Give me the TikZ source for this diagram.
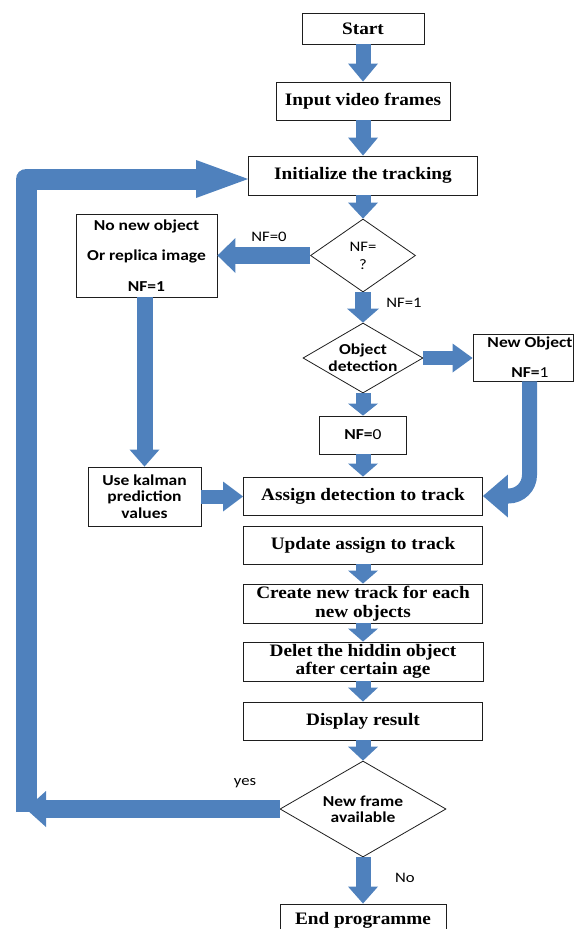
\documentclass[tikz,border=0pt]{standalone}
\usepackage{fontspec}
\setmainfont{Liberation Serif}[FakeStretch=1.1]
\newfontfamily\calib{Carlito}[FakeStretch=1.15]
\usetikzlibrary{arrows.meta,shapes.geometric}
\definecolor{flowblue}{RGB}{79,129,189}
\definecolor{edgegray}{RGB}{30,30,30}
\newcommand\boxserif{\fontsize{17.5}{18.5}\selectfont\bfseries}
\newcommand\sidebold[1]{\calib\fontsize{15.2}{#1}\selectfont\bfseries}
\newcommand\sidereg{\calib\fontsize{14.5}{18}\selectfont}

\begin{document}
\begin{tikzpicture}[x=1pt,y=-1pt,
  box/.style={draw=edgegray,line width=0.9pt,fill=white,inner sep=0pt,align=center,font=\boxserif},
  sidebox/.style={draw=edgegray,line width=0.9pt,fill=white,inner sep=0pt,align=center,font=\sidebold{#1}},
  dia/.style={diamond,draw=edgegray,line width=0.8pt,fill=white,inner sep=0pt},
  diatext/.style={font=\sidebold{#1},align=center,inner sep=0pt},
  tag/.style={font=\sidereg,inner sep=0pt,anchor=base},
  blk/.style n args={3}{draw=flowblue,line width=#1,-{Triangle[length=#2,width=#3,line width=0pt]}}]
\useasboundingbox (0,0) rectangle (574,929);

% main column
\node[box,minimum width=122pt,minimum height=31pt] (start) at (363,28.5) {Start};
\node[box,minimum width=174pt,minimum height=38pt] (input) at (363,101) {Input video frames};
\node[box,minimum width=229pt,minimum height=39pt] (init) at (363,175.5) {Initialize the tracking};
\node[dia,minimum width=105pt,minimum height=73pt,
  label={[diatext=18pt,font=\sidereg]center:NF=\\?}] (nfq) at (363,255.5) {};
\node[dia,minimum width=120pt,minimum height=70pt,
  label={[diatext=17pt]center:Object\\detection}] (od) at (363,358) {};
\node[sidebox=18pt,minimum width=87pt,minimum height=38pt] (nf0) at (363,435) {NF={\mdseries 0}};
\node[box,minimum width=239pt,minimum height=38pt] (assign) at (363,496) {Assign detection to track};
\node[box,minimum width=239pt,minimum height=38pt] (update) at (363,545) {Update assign to track};
\node[box,minimum width=239pt,minimum height=39pt] (create) at (363,603.5) {Create new track for each\\new objects};
\node[box,minimum width=240pt,minimum height=39pt] (delet) at (363,661.5) {Delet the hiddin object\\after certain age};
\node[box,minimum width=239pt,minimum height=38pt] (display) at (363,721) {Display result};
\node[dia,minimum width=166pt,minimum height=96pt,
  label={[diatext=16pt]center:New frame\\available}] (nf2) at (363,809) {};
\node[box,minimum width=166pt,minimum height=32pt] (endp) at (363,920) {End programme};

% side boxes
\node[sidebox=30.5pt,minimum width=141pt,minimum height=83pt] (nonew) at (146.5,255.5)
  {No new object\\Or replica image\\NF=1};
\node[sidebox=16.5pt,minimum width=113pt,minimum height=59pt] (kalman) at (144.5,496.5)
  {Use kalman\\prediction\\values};
\node[sidebox=30pt,minimum width=100pt,minimum height=47pt,
  label={[diatext=30pt,xshift=7pt]center:New Object\\NF={\mdseries 1}}] (newobj) at (523,357.5) {};

% vertical flow
\draw[blk={15pt}{18pt}{30pt}] (start.south) -- (input.north);
\draw[blk={15pt}{18pt}{30pt}] (input.south) -- (init.north);
\draw[blk={15pt}{16pt}{30pt}] (init.south) -- (nfq.north);
\draw[blk={16pt}{14pt}{32pt}] (nfq.south) -- (od.north);
\draw[blk={15pt}{12pt}{30pt}] (od.south) -- (nf0.north);
\draw[blk={15pt}{13pt}{30pt}] (nf0.south) -- (assign.north);
\draw[blk={15pt}{13pt}{30pt}] (update.south) -- (create.north);
\draw[blk={15pt}{13pt}{30pt}] (create.south) -- (delet.north);
\draw[blk={15pt}{14pt}{30pt}] (delet.south) -- (display.north);
\draw[blk={15pt}{14pt}{30pt}] (display.south) -- (nf2.north);
\draw[blk={15pt}{17pt}{30pt}] (nf2.south) -- (endp.north);

% side branches
\draw[blk={17pt}{18pt}{35pt}] (nfq.west) -- (nonew.east);
\draw[blk={16pt}{17pt}{30pt}] (nonew.south -| kalman.north) -- (kalman.north);
\draw[blk={14pt}{20pt}{30pt}] (kalman.east) -- (kalman.east -| assign.west);
\draw[blk={14pt}{20pt}{29pt}] (od.east) -- (od.east -| newobj.west);
\draw[blk={15pt}{25pt}{43pt},rounded corners=21pt] ([xshift=6.5pt]newobj.south) |- (assign.east);

% return loop
\coordinate (loopfoot) at (26,812);
\draw[blk={21pt}{52pt}{38pt},line join=round] (loopfoot) |- ([yshift=-3.5pt]init.west);
\draw[blk={18pt}{20pt}{36pt}] (nf2.west) -- (nf2.west -| loopfoot);

% branch labels
\node[tag] (l0) at (269,241) {NF=0};
\node[tag] (l1) at (404,307) {NF=1};
\node[tag] (lyes) at (245,785) {yes};
\node[tag] (lno) at (405,882) {No};
\end{tikzpicture}
\end{document}
